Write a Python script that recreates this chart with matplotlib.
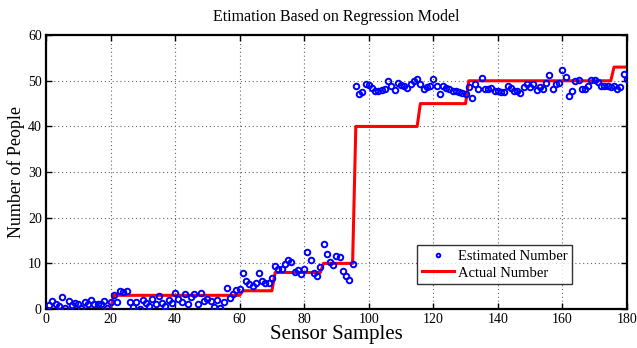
import matplotlib
matplotlib.use("Agg")
import matplotlib.pyplot as plt
import numpy as np

plt.rcParams["font.family"] = ["Liberation Serif", "DejaVu Serif"]
plt.rcParams["mathtext.fontset"] = "stix"

# sample indices
samples = np.arange(1, 181)

# regression estimates per sample
estimated = [
    0.9, 1.8, 1.2, 0.6, 2.7, 0.3, 1.8, 0.9, 1.4, 1.0,
    0.3, 1.5, 1.0, 2.0, 1.2, 1.2, 1.0, 1.8, 0.3, 1.5,
    3.0, 1.6, 4.0, 3.8, 4.0, 1.5, 0.5, 1.5, 0.1, 2.0,
    1.3, 0.6, 2.3, 1.2, 2.9, 1.4, 0.7, 2.0, 1.3, 3.6,
    2.3, 1.6, 3.2, 1.0, 2.7, 3.4, 1.2, 3.5, 1.8, 2.1,
    1.8, 0.4, 1.9, 0.2, 1.6, 4.5, 2.5, 3.4, 4.1, 4.3,
    7.8, 6.1, 5.5, 5.0, 5.8, 7.8, 6.1, 5.6, 5.8, 6.9,
    9.4, 8.7, 8.8, 9.9, 10.7, 10.4, 8.1, 8.5, 7.7, 8.7,
    12.6, 10.7, 8.0, 7.2, 9.1, 14.2, 12.0, 10.4, 9.6, 11.7,
    11.5, 8.4, 7.2, 6.3, 9.8,
    48.8, 47.0, 47.6, 49.4, 49.0, 48.5, 47.8, 47.8, 47.9, 48.3,
    50.0, 48.9, 47.9, 49.5, 49.0, 48.8, 48.5, 49.4, 50.0, 50.3,
    49.4, 48.1, 48.7, 48.9, 50.5, 48.9, 47.0, 48.9, 48.5, 48.1,
    47.8, 47.8, 47.6, 47.3, 47.2, 48.6, 46.3, 49.4, 48.3, 50.7,
    48.3, 48.3, 48.5, 47.8, 47.8, 47.6, 47.6, 48.8, 48.5, 47.8,
    47.8, 47.3, 48.6, 49.2, 48.6, 49.2, 47.9, 48.6, 48.1, 49.5,
    51.2, 48.1, 49.4, 49.6, 52.3, 50.8, 46.7, 47.7, 49.9, 50.1,
    48.1, 48.2, 48.9, 50.1, 50.1, 49.7, 48.9, 48.9, 48.9, 48.6,
    48.9, 48.2, 48.7, 51.5, 50.3,
]

# ground-truth occupancy: (number of samples, people count)
actual_levels = [0, 3, 4, 8, 10, 40, 45, 50, 53]
actual_lengths = [20, 40, 10, 15, 10, 20, 15, 45, 5]
actual = np.repeat(actual_levels, actual_lengths)

x_ticks = list(range(0, 181, 20))
y_ticks = list(range(0, 61, 10))

fig = plt.figure(figsize=(6.37, 3.48), dpi=100)
ax = fig.add_axes([0.0722, 0.112, 0.912, 0.787])

ax.plot(samples, estimated, linestyle="none", marker="o", markersize=4.0,
        markerfacecolor="none", markeredgecolor="#0000ff", markeredgewidth=1.4,
        label="Estimated Number", zorder=3)
ax.plot(samples, actual, color="#ff0000", linewidth=2.2,
        label="Actual Number", zorder=2)

ax.set_xlim(0, 180)
ax.set_ylim(0, 60)
ax.set_xticks(x_ticks)
ax.set_yticks(y_ticks)
ax.grid(True, linestyle=(0, (1, 2.5)), color="#666666", linewidth=0.8)
ax.tick_params(direction="in", length=4, width=1, labelsize=10, pad=3,
               top=True, right=True)
for s in ax.spines.values():
    s.set_linewidth(1.6)

ax.set_title("Etimation Based on Regression Model", fontsize=11.5, pad=10)
ax.set_xlabel("Sensor Samples", fontsize=15, labelpad=-1)
ax.set_ylabel("Number of People", fontsize=13, labelpad=2)

leg = ax.legend(loc="lower right", bbox_to_anchor=(0.918, 0.065), fontsize=10.5,
                frameon=True, fancybox=False, edgecolor="black",
                handlelength=2.2, handletextpad=0.3, borderpad=0.3,
                labelspacing=0.25, markerscale=0.65)
leg.get_frame().set_linewidth(1.0)

fig.savefig("out.png", dpi=100)
